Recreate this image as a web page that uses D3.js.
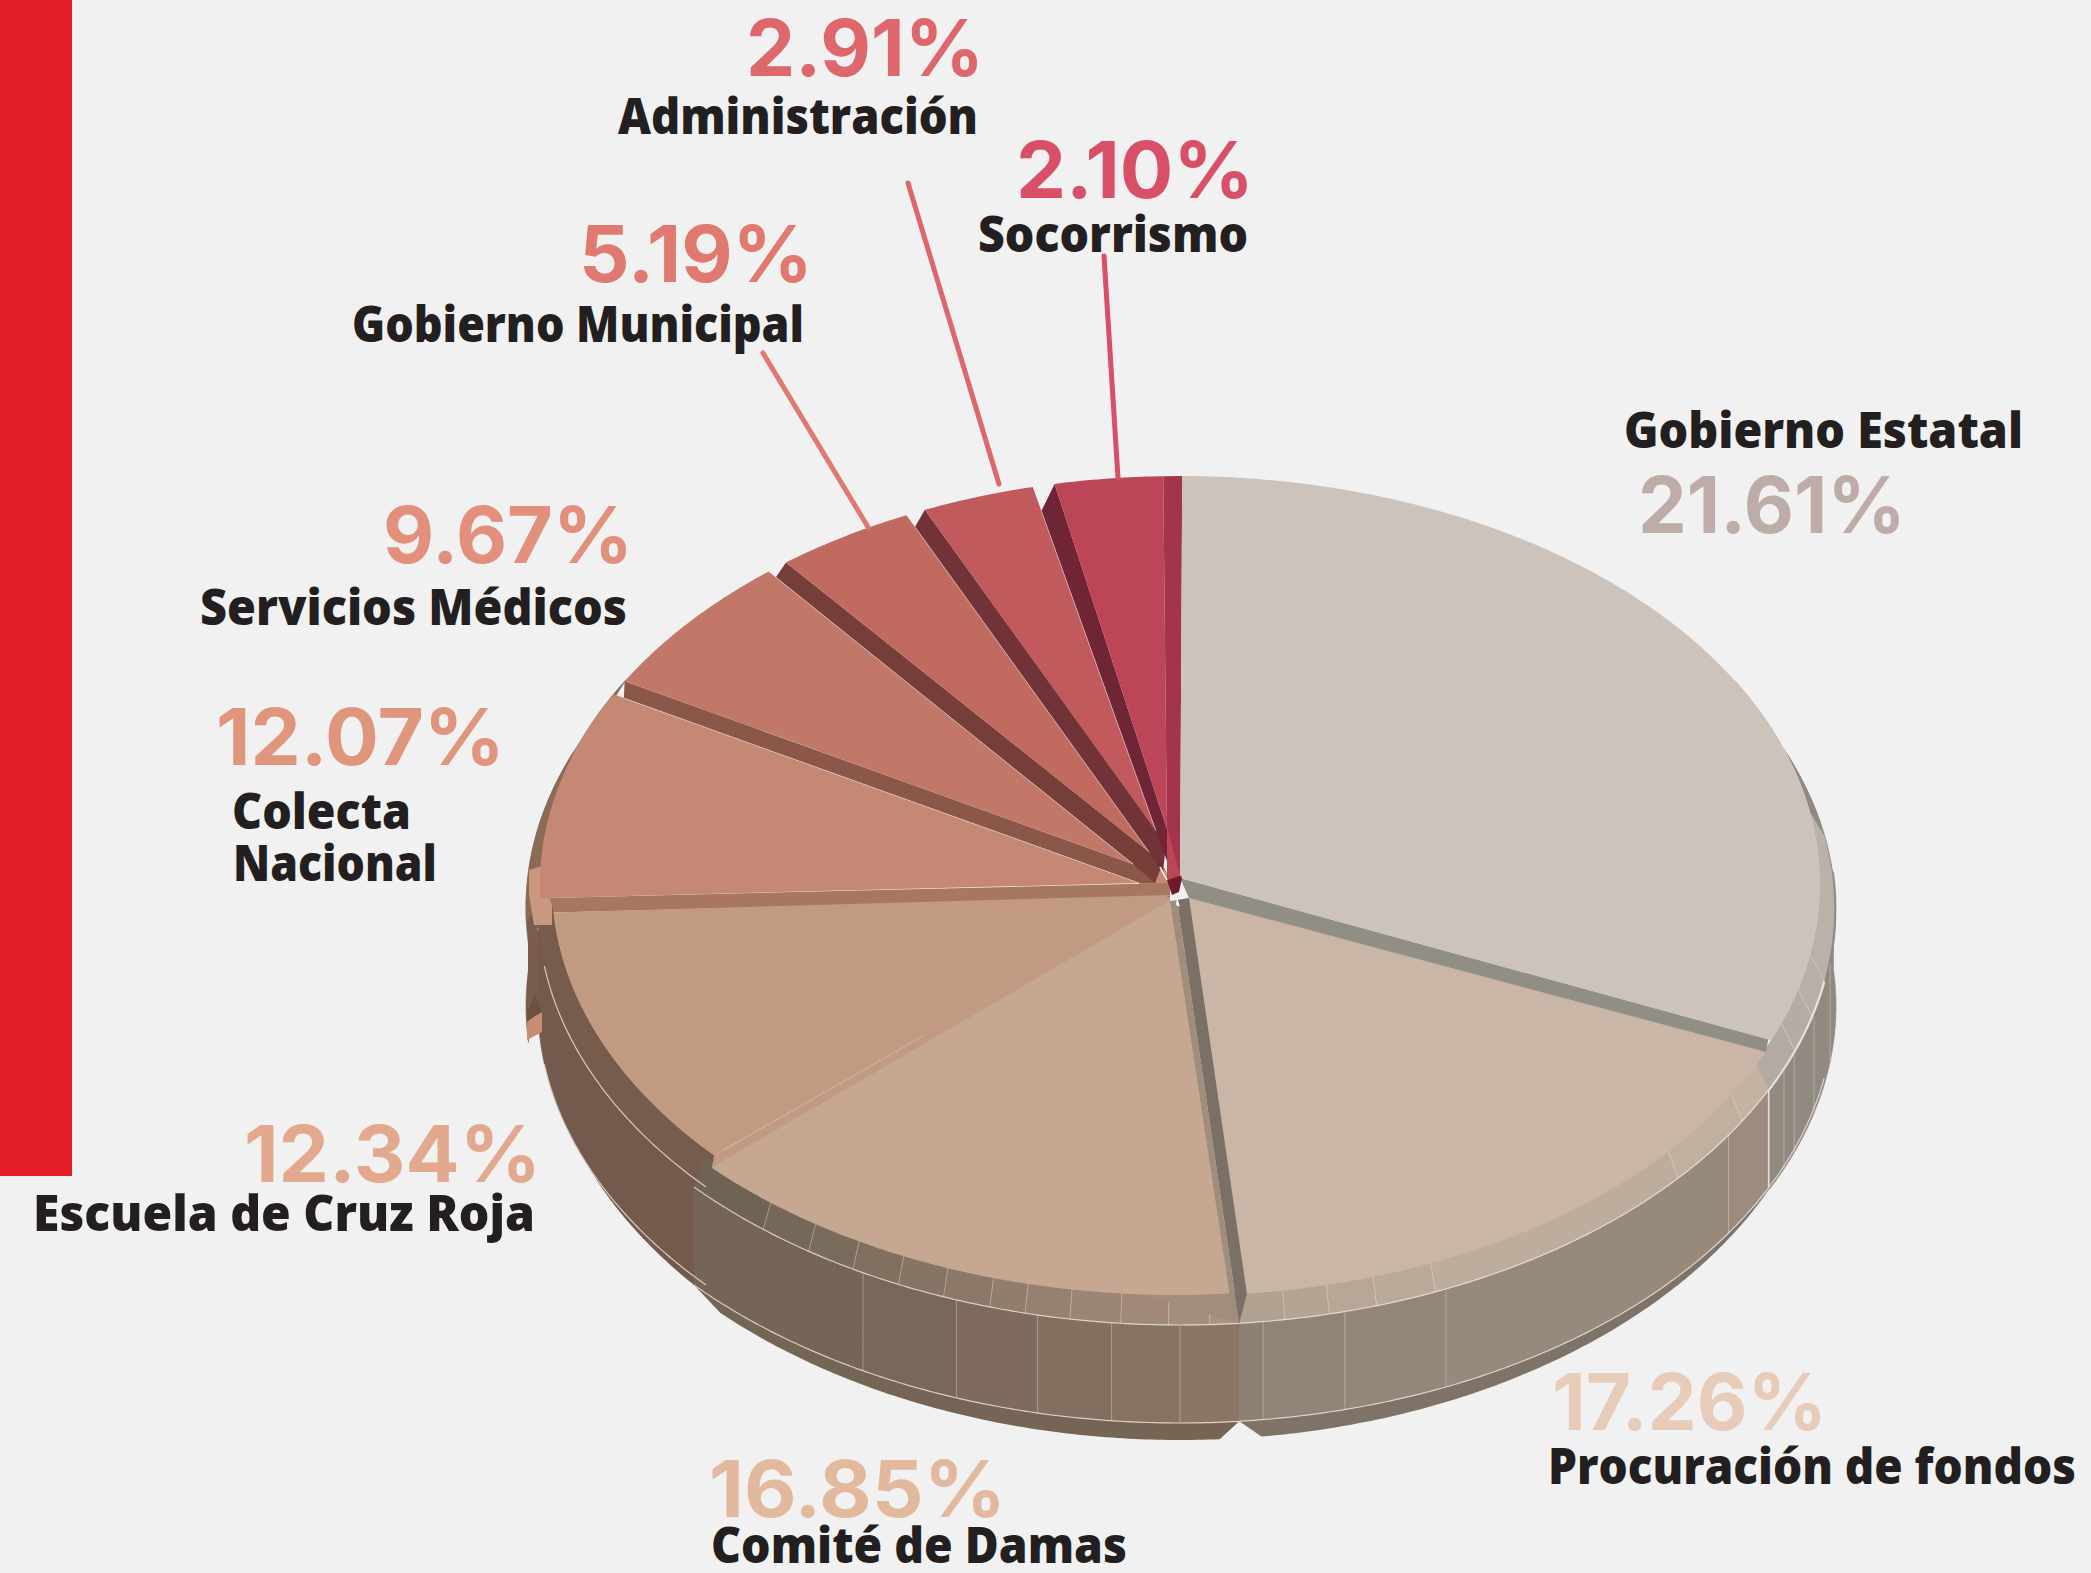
<!DOCTYPE html>
<html lang="es">
<head>
<meta charset="UTF-8">
<title>pie 3d</title>
<script src="https://d3js.org/d3.v7.min.js"></script>
<style>
  html, body { margin: 0; padding: 0; background: #f1f1f1; }
  svg { display: block; }
  .pct { font-family: Inter, sans-serif; font-weight: 700; }
  .lab { font-family: "Open Sans", sans-serif; font-weight: 800; fill: #231f20; }
</style>
</head>
<body>
<svg></svg>
<script>
// labels and printed values
const categories = ["Gobierno Estatal", "Procuración de fondos", "Comité de Damas", "Escuela de Cruz Roja",
  "Colecta Nacional", "Servicios Médicos", "Gobierno Municipal", "Administración", "Socorrismo"];
const percentages = [21.61, 17.26, 16.85, 12.34, 12.07, 9.67, 5.19, 2.91, 2.10];
// the slices in the picture are not drawn to the printed values, this is the sweep as drawn (degrees)
const drawnSweep = [112, 62, 52, 41, 31.5, 22.5, 14.5, 12, 12.5];

const faceColors = ["#cbc3bc", "#c9b6a6", "#c6a892", "#c29a82", "#c58874", "#c27869", "#c06a60", "#c05a5c", "#bc4558"];
const pctColors = ["#bdaca7", "#e6ccb9", "#e3b99e", "#e2a98f", "#e0957d", "#e28f7c", "#e07a70", "#de676b", "#da4f68"];

const width = 2091, height = 1573;
const svg = d3.select("svg").attr("width", width).attr("height", height);
svg.append("rect").attr("width", width).attr("height", height).attr("fill", "#f1f1f1");
svg.append("rect").attr("width", 72).attr("height", 1176).attr("fill", "#e31e29");

// ellipses of the fake 3d
const topE = { cx: 1180, cy: 884, rx: 640, ry: 408 };
const bevel = { cx: 1180, cy: 908, rx: 654, ry: 417 };
const wall = { cx: 1180, cy: 1006, rx: 654, ry: 417 };
const lip = { cx: 1180, cy: 1006, rx: 650, ry: 434 };
const backRim = { cx: 1180, cy: 912, rx: 656, ry: 419 };

const rim = (e, deg, dx = 0, dy = 0) => {
  const a = deg * Math.PI / 180;
  return [e.cx + dx + e.rx * Math.sin(a), e.cy + dy - e.ry * Math.cos(a)];
};
const arcPts = (e, a, b, dx = 0, dy = 0) => {
  const n = Math.max(2, Math.ceil(Math.abs(b - a) * 2));
  return d3.range(n + 1).map(i => rim(e, a + (b - a) * i / n, dx, dy));
};
const line = d3.line();
const poly = pts => line(pts) + "Z";
const mix = (p, q, t) => [p[0] + (q[0] - p[0]) * t, p[1] + (q[1] - p[1]) * t];

// the wedges do not quite touch, small corrections to where each starts and ends
const tweakA = [0.2, 1.7, 1.2, 2.3, 1, 1.3, 1, 1, 1.2];
const tweakB = [0.5, 0, 0.5, -1, -0.8, -1, -0.8, -0.8, -1.5];
const shiftX = [0, 0, -4, 12, 0, 0, 0, 0, 0];
const shiftY = [0, 4, 3, 0, 0, 0, 0, 0, 0];
// where each wedge comes to a point
const apex = [[1180, 878], [1189, 898], [1170, 901], [1170, 895], [1139, 883], [1133, 864], [1149, 852], [1156, 831], [1167, 829]];

const pie = d3.pie().sort(null).value(d => d);
const slices = pie(drawnSweep).map((d, i) => ({
  i,
  a: d.startAngle * 180 / Math.PI + tweakA[i],
  b: d.endAngle * 180 / Math.PI + tweakB[i],
}));
const cornerA = (i, t = 0) => mix(rim(topE, slices[i].a, shiftX[i], shiftY[i]), apex[i], t);
const cornerB = (i, t = 0) => mix(rim(topE, slices[i].b, shiftX[i], shiftY[i]), apex[i], t);

// outer side, [from, to, facets, colour at from, colour at to, x shift]
const wallParts = [
  [265, 292, [], "#7a5d4e", "#7a5d4e", 0],
  [85, 116, [97.7, 104.9, 110.6, 113], "#8f8a80", "#92897f", 2],
  [116, 174.8, [123, 156, 165.4, 172.7], "#9b8c7f", "#8c8173", 0],
  [228, 268, [], "#745a4c", "#745a4c", 12],
  [174.8, 228, [180, 186, 192.6, 200, 209], "#8b7565", "#756557", 0],
];
const bevelParts = [
  [268, 300, [], "#8b6b58", "#8b6b58", 0],
  [80, 116, [100, 105, 110], "#b9b2ab", "#b2aba3", 0],
  [116, 174.8, [120.7, 130.4, 157, 162.5, 166.8, 170.8], "#c3b3a3", "#b0a191", 0],
  [228, 268, [], "#775c4d", "#775c4d", 12],
  [174.8, 228, [177.4, 181, 185.2, 189.7, 193.7, 196.9, 201.2, 205.5, 210, 214.6, 219.6], "#ad927f", "#6f6355", 0],
];

const gBody = svg.append("g");

// dark sliver behind the right side of Gobierno Estatal
gBody.append("path")
  .attr("d", poly(arcPts(backRim, 60, 100).concat(arcPts(topE, 100, 60))))
  .attr("fill", "#8f8a80");

// side of Colecta showing behind Escuela
gBody.append("path")
  .attr("d", poly([[528, 930], [550, 930], [550, 1015], [535, 1015], [528, 1005]]))
  .attr("fill", "#7a5d4e");

// lowest lip: wall from/to, lip from/to, colour, x shift
[[113, 118, 113, 118, "#8c8278", 0],
 [118, 174.8, 118, 172.8, "#7f7367", 0],
 [174.8, 228, 176.5, 225, "#756555", 0],
 [228, 262, 228, 262, "#745a4c", 12]].forEach(([a, b, la, lb, c, dx]) => {
  gBody.append("path")
    .attr("d", poly(arcPts(wall, a, b, dx).concat(arcPts(lip, lb, la, dx))))
    .attr("fill", c);
});

function band(parts, upper, lower, lineCol) {
  parts.forEach(p => {
    const [a, b, facets, c0, c1, dx] = p;
    const stops = [a, ...facets, b];
    const col = d3.interpolateRgb(c0, c1);
    d3.pairs(stops).forEach(([s, e], j) => {
      const c = col(facets.length ? j / facets.length : 0);
      gBody.append("path")
        .attr("d", poly(arcPts(upper, s, e, dx).concat(arcPts(lower, e, s, dx))))
        .attr("fill", c)
        .attr("stroke", c)
        .attr("stroke-width", 0.6);
    });
    facets.forEach(f => {
      gBody.append("path")
        .attr("d", line([rim(upper, f, dx), rim(lower, f, dx)]))
        .attr("stroke", lineCol)
        .attr("stroke-width", 1);
    });
  });
}
band(wallParts, bevel, wall, "rgba(225,220,215,.4)");
band(bevelParts, topE, bevel, "rgba(235,230,225,.4)");

// thin light lines along the rim
[[100, 174.8, 0], [174.8, 228, 0], [228, 262, 12]].forEach(([a, b, dx]) => {
  [bevel, wall].forEach(e => {
    gBody.append("path")
      .attr("d", line(arcPts(e, a, b, dx)))
      .attr("fill", "none")
      .attr("stroke", "rgba(240,236,232,.75)")
      .attr("stroke-width", 1.2);
  });
});

// odd leftovers on the far left of the original drawing
gBody.append("path").attr("d", poly([[529, 870], [543, 866], [552, 897], [552, 925], [534, 925], [529, 895]])).attr("fill", "#c9987f");
gBody.append("path").attr("d", poly([[527, 1010], [535, 995], [542, 1012], [527, 1022]])).attr("fill", "#6e5040");
gBody.append("path").attr("d", poly([[527, 1022], [542, 1012], [542, 1032], [527, 1040]])).attr("fill", "#c88d75");

// patch where the upper wedges run out near the centre
gBody.append("path").attr("d", poly([[1133, 866], [1165, 868], [1170, 884], [1139, 884]])).attr("fill", faceColors[4]);

// side strips between neighbouring wedges, lower edge first then upper edge
const strips = [
  [[cornerB(0, 0.005), [1180, 878], [1189, 898], cornerA(1)], "#918e85"],
  [[cornerB(2), apex[2], [1177, 900], rim(bevel, 174.8)], "#a08d7c"],
  [[rim(bevel, 174.8), [1177, 900], apex[1], cornerA(1), cornerB(1)], "#7a7065"],
  [[cornerA(3), [1170, 893], apex[2], cornerB(2)], "#c09a84"],
  [[cornerA(4, 0.016), [1170, 883], [1170, 897], cornerB(3)], "#a87762"],
  [[cornerB(4, 0.02), apex[4], [1155, 883], [1155, 872], cornerA(5)], "#8a5749"],
  [[cornerB(5, 0.02), apex[5], [1155, 883], [1163, 863], cornerA(6)], "#753e39"],
  [[cornerB(6, 0.035), apex[6], [1163, 872], [1166, 844], cornerA(7)], "#713338"],
  [[cornerB(7, 0.07), apex[7], [1167, 861], [1167, 829], cornerA(8)], "#6f2536"],
  [[cornerB(8), [1167, 835], [1180, 878], cornerA(0)], "#a3354a"],
];
strips.forEach(([pts, c]) => {
  gBody.append("path").attr("d", poly(pts)).attr("fill", c);
});

// tops of the wedges
slices.forEach(s => {
  const pts = [apex[s.i]].concat(arcPts(topE, s.a, s.b, shiftX[s.i], shiftY[s.i]));
  gBody.append("path").attr("d", poly(pts)).attr("fill", faceColors[s.i]);
});

// hairlines along some wedge edges
[[cornerB(7, 0.07), apex[7]], [cornerB(4, 0.02), apex[4]], [cornerB(5, 0.02), apex[5]],
 [cornerB(6, 0.035), apex[6]]].forEach(l => {
  gBody.append("path").attr("d", line(l))
    .attr("stroke", "rgba(255,255,255,.4)")
    .attr("stroke-width", 1);
});
gBody.append("path").attr("d", line([cornerA(3, 0.02), mix(cornerA(3), apex[3], 0.46)]))
  .attr("stroke", "rgba(255,255,255,.25)")
  .attr("stroke-width", 1);

// little pieces at the centre
gBody.append("path").attr("d", poly([[1167, 827], [1180, 875], [1182, 877], [1167, 880]])).attr("fill", faceColors[8]);
gBody.append("path").attr("d", poly([[1167, 880], [1180, 876], [1182, 878], [1179, 892], [1172, 895]])).attr("fill", "#6d1a2b");
gBody.append("path").attr("d", poly([[1177, 897], [1180, 907], [1176, 905]])).attr("fill", "#fff");
gBody.append("path").attr("d", line([[1160, 867], [1167, 880]])).attr("stroke", "#fff").attr("stroke-width", 1.5);

// leader lines
const leaderFrom = { 6: [763, 353], 7: [908, 183], 8: [1104, 256] };
const leaderTo = { 6: [868, 527], 7: [999, 484], 8: [1118, 478] };
[6, 7, 8].forEach(i => {
  svg.append("path")
    .attr("d", line([leaderFrom[i], leaderTo[i]]))
    .attr("stroke", pctColors[i])
    .attr("stroke-width", 5)
    .attr("stroke-linecap", "round");
});

// text: x start, x end, baseline
const pctPos = [[1638, 1906, 533], [1552, 1827, 1430], [709, 1006, 1517], [244, 541, 1182], [216, 505, 765],
  [383, 633, 563], [579, 813, 282], [746, 984, 76], [1016, 1254, 198]];
const labPos = [
  [[1624, 2023, 448]],
  [[1548, 2076, 1484]],
  [[711, 1127, 1563]],
  [[33, 535, 1231]],
  [[232, 411, 829], [233, 437, 881]],
  [[200, 627, 625]],
  [[352, 804, 342]],
  [[618, 978, 134]],
  [[978, 1248, 252]],
];
const labLines = categories.map(c => c === "Colecta Nacional" ? c.split(" ") : [c]);
const fmt = d3.format(".2f");

percentages.forEach((v, i) => {
  const [x0, x1, y] = pctPos[i];
  svg.append("text").attr("class", "pct")
    .attr("x", x0).attr("y", y)
    .attr("font-size", 79)
    .attr("textLength", x1 - x0).attr("lengthAdjust", "spacingAndGlyphs")
    .attr("fill", pctColors[i])
    .text(fmt(v) + "%");
  labLines[i].forEach((t, k) => {
    const [lx0, lx1, ly] = labPos[i][k];
    svg.append("text").attr("class", "lab")
      .attr("x", lx0).attr("y", ly)
      .attr("font-size", 49)
      .attr("textLength", lx1 - lx0).attr("lengthAdjust", "spacingAndGlyphs")
      .text(t);
  });
});
</script>
</body>
</html>
